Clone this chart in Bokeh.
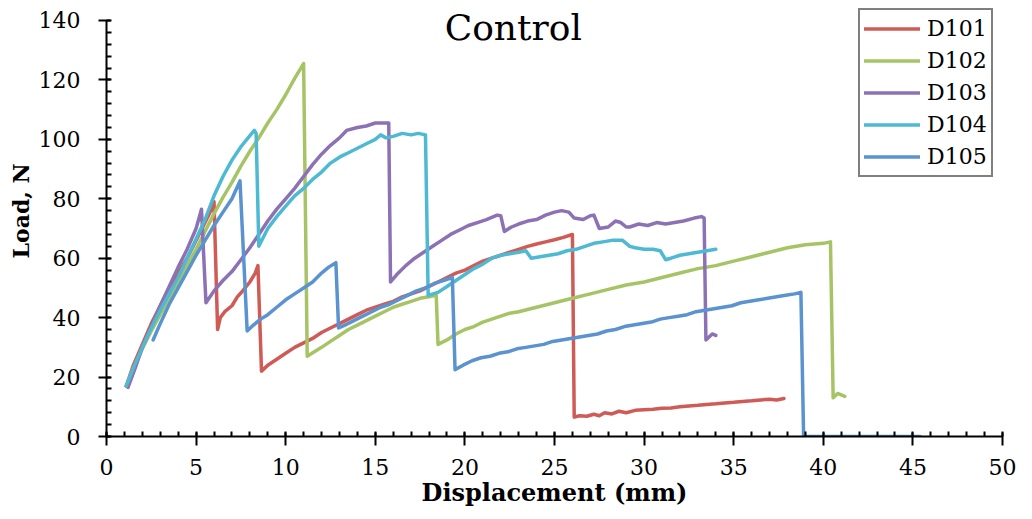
import math
from bokeh.plotting import figure
from bokeh.models import Range1d, SingleIntervalTicker, Label, Legend, LegendItem, Title
from bokeh.embed import file_html
from bokeh.resources import INLINE

# ---------------- data ----------------
series_names = ["D101", "D102", "D103", "D104", "D105"]
series_colors = ["#CF5B56", "#A6C465", "#8C72B4", "#4DB9D3", "#5A93CF"]

d101_x = [1.1, 1.5, 2.0, 2.5, 3.0, 3.5, 4.0, 4.5, 5.0, 5.5, 5.9, 6.0,
          6.2, 6.35, 6.6, 7.0, 7.3, 7.6, 8.0, 8.3, 8.45,
          8.65, 9.0, 9.5, 10.0, 10.5, 11.0, 11.5, 12.0, 12.5, 13.0,
          13.5, 14.0, 14.5, 15.0, 15.5, 16.0, 16.5, 17.0, 17.5, 18.0,
          18.5, 19.0, 19.5, 20.0, 20.5, 21.0, 21.5, 22.0, 22.5, 23.0,
          23.5, 24.0, 24.5, 25.0, 25.5, 25.9, 26.0,
          26.1, 26.4, 26.8, 27.2, 27.5, 27.8, 28.2, 28.6, 29.0, 29.5,
          30.0, 30.5, 31.0, 31.5, 32.0, 32.5, 33.0, 33.5, 34.0, 34.5,
          35.0, 35.5, 36.0, 36.5, 37.0, 37.4, 37.8]
d101_y = [17, 24, 31, 38, 44, 50, 55, 60, 66, 72, 77, 79,
          36, 40, 42, 44, 47, 49, 52, 55, 57.5,
          22, 24, 26, 28, 30, 31.5, 33, 35, 36.5, 38,
          39.5, 41, 42.5, 43.5, 44.5, 45.5, 47, 48, 49, 50.5,
          52, 53.5, 55, 56, 57.5, 59, 60, 61, 62, 63,
          64, 64.8, 65.5, 66.2, 67, 67.8, 68,
          6.5, 7, 6.8, 7.5, 7, 8, 7.6, 8.5, 8, 8.8,
          9, 9.2, 9.5, 9.6, 10, 10.3, 10.5, 10.8, 11, 11.3,
          11.5, 11.8, 12, 12.3, 12.5, 12.3, 12.8]

d102_x = [1.1, 1.5, 2.0, 2.5, 3.0, 3.5, 4.0, 4.5, 5.0, 5.5,
          6.0, 6.5, 7.0, 7.5, 8.0, 8.5, 9.0, 9.5, 10.0, 10.5,
          11.0,
          11.2, 11.6, 12.0, 12.5, 13.0, 13.5, 14.0, 14.5, 15.0, 15.5,
          16.0, 16.5, 17.0, 17.5, 18.0, 18.4,
          18.5, 19.0, 19.5, 20.0, 20.5, 21.0, 21.5, 22.0, 22.5, 23.0,
          24.0, 25.0, 26.0, 27.0, 28.0, 29.0, 30.0, 31.0, 32.0, 33.0,
          34.0, 35.0, 36.0, 37.0, 38.0, 39.0, 40.0, 40.4,
          40.55, 40.8, 41.0, 41.2]
d102_y = [17, 23, 29.5, 35.5, 41, 46.5, 52, 57.5, 63, 69,
          75, 80.5, 85.5, 91, 96, 100.5, 105.5, 110, 115, 120.5,
          125.5,
          27, 28.5, 30, 32, 34, 36, 37.5, 39, 40.5, 42,
          43.5, 44.5, 45.5, 46.5, 47, 47.5,
          31, 32.5, 34.5, 36, 37, 38.5, 39.5, 40.5, 41.5, 42,
          43.5, 45, 46.5, 48, 49.5, 51, 52, 53.5, 55, 56.5,
          57.5, 59, 60.5, 62, 63.5, 64.5, 65, 65.5,
          13, 14.5, 14, 13.5]

d103_x = [1.2, 1.6, 2.0, 2.5, 3.0, 3.5, 4.0, 4.5, 5.0, 5.3,
          5.55, 6.0, 6.5, 7.0, 7.5, 8.0, 8.5, 9.0, 9.5, 10.0,
          10.5, 11.0, 11.5, 12.0, 12.5, 13.0, 13.4, 14.0, 14.5, 15.0, 15.5, 15.75,
          15.85, 16.2, 16.7, 17.2, 17.7, 18.2, 18.7, 19.2, 19.7, 20.2,
          20.7, 21.2, 21.8, 22.0, 22.2, 22.6, 23.0, 23.5, 24.0, 24.5,
          25.0, 25.4, 25.8, 26.1, 26.6, 27.0, 27.2, 27.5, 28.0, 28.4,
          28.7, 29.0, 29.2, 29.7, 30.2, 30.7, 31.2, 31.7, 32.2, 32.8, 33.2, 33.35,
          33.45, 33.8, 34.0]
d103_y = [16.5, 23, 30, 37, 44, 50.5, 57, 63, 70, 76.5,
          45, 49, 52.5, 55.5, 59.5, 63.5, 68, 72.5, 76.5, 80,
          83.5, 87.5, 91.5, 95, 98, 100.5, 103, 104, 104.5, 105.5, 105.5, 105.5,
          52, 54.5, 57.5, 60, 62, 64, 66, 68, 69.5, 71,
          72, 73, 74.5, 74.3, 69, 70.5, 71.5, 72.5, 73, 74.5,
          75.5, 76, 75.5, 73.5, 73, 74.3, 74.5, 70, 70.5, 72.5,
          72, 70.5, 70.5, 71.5, 71, 72, 71.5, 72, 72.5, 73.5, 74, 73.5,
          32.5, 34.5, 34]

d104_x = [1.1, 1.5, 2.0, 2.5, 3.0, 3.5, 4.0, 4.5, 5.0, 5.5,
          6.0, 6.5, 7.0, 7.5, 7.9, 8.25, 8.35,
          8.5, 9.0, 9.5, 10.0, 10.5, 11.0, 11.5, 12.0, 12.5, 13.0,
          13.5, 14.0, 14.5, 15.0, 15.3, 15.6, 16.0, 16.5, 17.0, 17.4, 17.8,
          17.95, 18.5, 19.0, 19.5, 20.0, 20.5, 21.0, 21.5, 22.0, 22.5,
          23.0, 23.4, 23.7, 24.2, 24.7, 25.2, 25.7, 26.2, 26.7, 27.2,
          27.7, 28.2, 28.8, 29.2, 29.5, 30.0, 30.5, 30.9, 31.2, 31.5,
          32.0, 32.5, 33.0, 33.5, 34.0]
d104_y = [17, 23, 30, 36.5, 42.5, 48, 53.5, 60, 66.5, 73,
          81, 87.5, 93, 97.5, 100.5, 103, 102,
          64, 70, 74, 77.5, 81, 83.5, 86.5, 89, 92, 94,
          95.5, 97, 98.5, 100, 101.5, 100.5, 101, 102, 101.5, 102, 101.5,
          47.5, 48.5, 50.5, 52.5, 54.5, 56.5, 58, 60, 61, 61.5,
          62, 62.5, 60, 60.5, 61, 61.5, 62.5, 63, 64, 65,
          65.5, 66, 66, 64, 63.5, 63, 63, 62.5, 59.5, 60,
          61, 61.5, 62, 62.5, 63]

d105_x = [2.6, 3.0, 3.5, 4.0, 4.5, 5.0, 5.5, 6.0, 6.5, 7.0, 7.45,
          7.85, 8.2, 8.6, 9.0, 9.5, 10.0, 10.5, 11.0, 11.5, 12.0, 12.4, 12.8,
          12.95, 13.3, 13.8, 14.3, 14.8, 15.3, 15.8, 16.3, 16.8, 17.3,
          17.8, 18.3, 18.8, 19.3,
          19.45, 19.9, 20.4, 20.9, 21.4, 21.9, 22.4, 22.9, 23.4, 23.9,
          24.4, 24.9, 25.4, 25.9, 26.4, 26.9, 27.4, 27.9, 28.4, 28.9,
          29.4, 29.9, 30.4, 30.9, 31.4, 31.9, 32.4, 32.9, 33.4, 33.9,
          34.4, 34.9, 35.4, 35.9, 36.4, 36.9, 37.4, 37.9, 38.4, 38.75,
          38.9, 39.0, 40.0, 41.0, 42.0, 43.0, 44.0, 45.4]
d105_y = [32.5, 38, 44.5, 50, 55.5, 61, 66, 71, 75.5, 80, 86,
          35.5, 37.5, 39.5, 41, 43.5, 46, 48, 50, 52, 55, 57, 58.5,
          36.5, 37.5, 39, 40.5, 42, 43.5, 44.5, 46, 47.5, 49,
          50, 51.5, 52.5, 53.5,
          22.5, 24, 25.5, 26.5, 27, 28, 28.5, 29.5, 30, 30.5,
          31, 32, 32.5, 33, 33.5, 34, 34.5, 35.5, 36, 37,
          37.5, 38, 38.5, 39.5, 40, 40.5, 41, 42, 42.5, 43,
          43.5, 44, 45, 45.5, 46, 46.5, 47, 47.5, 48, 48.5,
          0.3, 0, 0, 0, 0, 0, 0, 0]

series_x = [d101_x, d102_x, d103_x, d104_x, d105_x]
series_y = [d101_y, d102_y, d103_y, d104_y, d105_y]

title_text = "Control"
x_label = "Displacement (mm)"
y_label = "Load, N"

# ---------------- figure ----------------
SERIF = "DejaVu Serif"

# frame: x from 106 to 1002 px, y from 0 to 436 px; 140 N sits 20 px below the top
Y_TOP = 140 + 20 / 2.975

p = figure(width=1016, height=511, output_backend="svg", toolbar_location=None,
           x_range=Range1d(0, 50), y_range=Range1d(0, Y_TOP),
           min_border_left=106, min_border_right=14, min_border_top=0, min_border_bottom=75)
p.outline_line_color = None
p.xgrid.visible = False
p.ygrid.visible = False
p.background_fill_color = "white"
p.border_fill_color = "white"

p.xaxis.ticker = SingleIntervalTicker(interval=5, num_minor_ticks=5)
p.yaxis.ticker = SingleIntervalTicker(interval=20, num_minor_ticks=5)
p.yaxis.bounds = (0, 140)
p.xaxis.bounds = (0, 50)

for ax in (p.xaxis, p.yaxis):
    ax.axis_line_color = "black"
    ax.axis_line_width = 2
    ax.major_tick_line_color = "black"
    ax.major_tick_line_width = 2
    ax.minor_tick_line_color = "black"
    ax.minor_tick_line_width = 2
    ax.major_label_text_font = SERIF
    ax.major_label_text_font_size = "22px"
    ax.major_label_text_color = "black"

p.xaxis.major_tick_in = 4
p.xaxis.major_tick_out = 9
p.xaxis.minor_tick_in = 5
p.xaxis.minor_tick_out = 0
p.xaxis.major_label_standoff = 13
p.yaxis.major_tick_in = 4
p.yaxis.major_tick_out = 8
p.yaxis.minor_tick_in = 5
p.yaxis.minor_tick_out = 0
p.yaxis.major_label_standoff = 18

p.xaxis.axis_label = x_label
p.xaxis.axis_label_text_font = SERIF
p.xaxis.axis_label_text_font_style = "bold"
p.xaxis.axis_label_text_font_size = "24px"
p.xaxis.axis_label_text_color = "black"
p.xaxis.axis_label_standoff = 0

p.add_layout(Title(text=y_label, align="left", offset=178, text_font=SERIF,
                   text_font_style="bold", text_font_size="22px", text_color="black",
                   standoff=4), "left")

items = []
for name, col, xs, ys in zip(series_names, series_colors, series_x, series_y):
    r = p.line(xs, ys, line_color=col, line_width=3.5, line_join="round", line_cap="round")
    items.append(LegendItem(label=name, renderers=[r]))

legend = Legend(items=items, location=(752, 259))
legend.border_line_color = "black"
legend.border_line_width = 2
legend.background_fill_color = "white"
legend.background_fill_alpha = 1
legend.padding = 4
legend.spacing = 3
legend.margin = 0
legend.label_height = 29
legend.glyph_height = 29
legend.glyph_width = 56
legend.label_standoff = 7
legend.label_text_font = SERIF
legend.label_text_font_size = "22px"
legend.label_text_color = "black"
legend.label_text_baseline = "middle"
p.add_layout(legend, "center")

p.add_layout(Label(x=22.7, y=137.8, text=title_text, text_align="center", text_baseline="middle",
                   text_font=SERIF, text_font_size="36px", text_color="black"))

open("out.html", "w").write(file_html(p, INLINE))
